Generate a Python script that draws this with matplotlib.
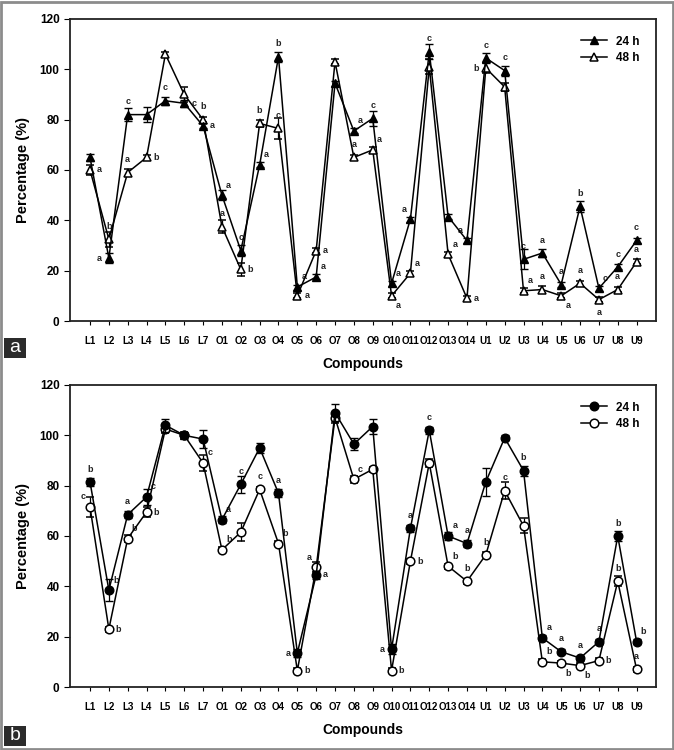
"""Two-panel line chart: percentage per compound after 24 h and 48 h."""

import matplotlib

matplotlib.use("Agg")
import matplotlib.pyplot as plt
from matplotlib.lines import Line2D
from matplotlib.patches import Rectangle

plt.rcParams["font.family"] = ["Liberation Sans", "DejaVu Sans"]

compounds = (["L%d" % i for i in range(1, 8)] + ["O%d" % i for i in range(1, 15)]
             + ["U%d" % i for i in range(1, 10)])

# panel a (triangles)
a24 = [65, 25, 82, 82, 87.5, 86.5, 77.5, 50, 28, 62, 105, 13.5, 17.5, 94.5, 75.5,
       80.5, 15, 40.5, 107, 41.5, 32, 104.5, 99.5, 24.5, 27, 14.5, 45.5, 13, 21.5, 32]
a48 = [60, 32.5, 59, 65, 106, 90, 80, 37.5, 20.5, 78.5, 76.5, 10, 28, 103, 65,
       68, 10, 19, 101, 26.5, 9, 100.5, 93, 12, 12.5, 10, 15, 8.5, 12.5, 23.5]
a24_err = [1.5, 2, 2.5, 3, 1.5, 1.5, 1, 2, 2, 1, 2, 1, 1, 1, 1,
           3, 1, 1, 3, 1, 1, 2, 2, 4, 1.5, 1, 2, 1, 1, 1]
a48_err = [2, 3, 1.5, 1, 1, 3, 1, 2.5, 2.5, 1.5, 4, 1, 1, 1, 1,
           1, 1, 1, 3, 1, 1, 2, 1.5, 1, 1.5, 1, 1, 1, 1, 1]

# panel b (circles)
b24 = [81.5, 38.5, 68.5, 75.5, 104, 100, 98.5, 66.5, 80.5, 95, 77, 13.5, 44.5, 109, 96.5,
       103.5, 15, 63, 102, 60, 57, 81.5, 99, 86, 19.5, 14, 11.5, 18, 60, 18]
b48 = [71.5, 23, 59, 69.5, 102.5, 100, 89, 54.5, 61.5, 78.5, 57, 6.5, 47.5, 107, 82.5,
       86.5, 6.5, 50, 89, 48, 42, 52.5, 78, 64, 10, 9.5, 8.5, 10.5, 42, 7]
b24_err = [1.5, 4.5, 1.5, 3, 2.5, 1.5, 3.5, 1.5, 3.5, 2, 1.5, 1.5, 1.5, 3.5, 2.5,
           3, 2, 1.5, 1.5, 1.5, 1.5, 5.5, 1, 2, 1, 1, 1, 1, 2, 1]
b48_err = [4, 1, 1.5, 2, 1.5, 1.5, 3, 1, 3.5, 1, 1, 1, 2, 2, 1.5,
           1, 1, 1, 1.5, 1, 1, 1, 3.5, 3, 1, 1, 1, 1, 2, 1]

# significance letters
a24_let = ["", "a", "c", "", "c", "c", "a", "a", "c", "a", "b", "a", "a", "", "a",
           "c", "a", "a", "c", "", "a", "c", "c", "c", "a", "a", "b", "c", "c", "c"]
a48_let = ["a", "b", "a", "b", "", "", "b", "a", "b", "b", "c", "a", "a", "", "a",
           "a", "a", "a", "", "a", "a", "b", "", "a", "a", "a", "a", "a", "a", "a"]
b24_let = ["b", "b", "a", "c", "", "", "", "a", "c", "", "a", "a", "a", "", "",
           "", "a", "a", "c", "a", "a", "", "", "b", "a", "a", "a", "a", "b", "b"]
b48_let = ["c", "b", "b", "b", "", "", "c", "b", "", "c", "b", "b", "a", "", "c",
           "", "b", "b", "", "b", "b", "b", "c", "", "b", "b", "b", "b", "b", "a"]

# where each letter sits relative to its marker
a24_pos = ["", "l", "t", "", "t", "r", "r", "tr", "t", "tr", "t", "tr", "tr", "", "tr",
           "t", "tr", "tl", "t", "", "tl", "t", "t", "t", "t", "t", "t", "tr", "t", "t"]
a48_pos = ["r", "t", "t", "r", "", "", "t", "t", "r", "t", "t", "r", "r", "", "t",
           "tr", "br", "tr", "", "tr", "r", "l", "", "tr", "t", "br", "t", "b", "t", "t"]
b24_pos = ["t", "tr", "t", "tr", "", "", "", "tr", "t", "", "t", "l", "r", "", "",
           "", "l", "t", "t", "tr", "t", "", "", "t", "tr", "t", "t", "t", "t", "tr"]
b48_pos = ["tl", "r", "tr", "r", "", "", "tr", "tr", "", "t", "tr", "r", "tl", "", "tr",
           "", "r", "r", "", "tr", "t", "t", "t", "", "tr", "br", "br", "r", "t", "t"]

OFFSETS = {"t": (0, 6, "center", "bottom"), "b": (0, -6, "center", "top"),
           "r": (5, 0, "left", "center"), "l": (-5, 0, "right", "center"),
           "tr": (3, 4, "left", "bottom"), "br": (3, -4, "left", "top"),
           "tl": (-3, 4, "right", "bottom")}


def add_letters(ax, x, y, letters, where):
    for xi, yi, s, p in zip(x, y, letters, where):
        if not s:
            continue
        dx, dy, ha, va = OFFSETS[p]
        ax.annotate(s, (xi, yi), xytext=(dx, dy), textcoords="offset points",
                    ha=ha, va=va, fontsize=6.5, fontweight="bold", color="#222222")


def draw_panel(ax, y24, e24, y48, e48, l24, p24, l48, p48, marker):
    x = list(range(len(compounds)))
    ax.errorbar(x, y48, yerr=e48, color="black", lw=1.1, marker=marker, ms=6.2,
                mfc="white", mec="black", mew=1.1, capsize=3, elinewidth=0.9,
                zorder=3)
    ax.errorbar(x, y24, yerr=e24, color="black", lw=1.1, marker=marker, ms=6.2,
                mfc="black", mec="black", capsize=3, elinewidth=0.9, zorder=4)
    add_letters(ax, x, y24, l24, p24)
    add_letters(ax, x, y48, l48, p48)
    ax.set_xlim(-1.06, 30.03)
    ax.set_ylim(0, 120)
    ax.set_yticks(range(0, 121, 20))
    ax.set_xticks(x)
    ax.set_xticklabels(compounds, fontsize=7, fontweight="bold")
    ax.tick_params(axis="y", labelsize=8.5, direction="out", length=4)
    ax.tick_params(axis="x", direction="out", length=3, pad=8)
    for lab in ax.get_yticklabels():
        lab.set_fontweight("bold")
    for sp in ax.spines.values():
        sp.set_linewidth(1.3)
        sp.set_color("#222222")
    ax.set_ylabel("Percentage (%)", fontsize=10.5, fontweight="bold", labelpad=7)
    ax.set_xlabel("Compounds", fontsize=10, fontweight="bold", labelpad=8)
    handles = [Line2D([], [], color="black", lw=1.1, marker=marker, ms=6.2,
                      mfc="black", mec="black"),
               Line2D([], [], color="black", lw=1.1, marker=marker, ms=6.2,
                      mfc="white", mec="black", mew=1.1)]
    ax.legend(handles, ["24 h", "48 h"], loc="upper right", frameon=False,
              handlelength=2.2, borderaxespad=1.0, labelspacing=0.35,
              prop={"weight": "bold", "size": 8.5})


fig = plt.figure(figsize=(6.74, 7.5), dpi=100)
ax_a = fig.add_axes([0.1039, 0.572, 0.8694, 0.4027])
ax_b = fig.add_axes([0.1039, 0.084, 0.8694, 0.4027])
draw_panel(ax_a, a24, a24_err, a48, a48_err, a24_let, a24_pos, a48_let, a48_pos, "^")
draw_panel(ax_b, b24, b24_err, b48, b48_err, b24_let, b24_pos, b48_let, b48_pos, "o")

# panel tags and outer frame
for label, yb in (("a", 0.523), ("b", 0.006)):
    fig.patches.append(Rectangle((0.006, yb), 0.032, 0.026, transform=fig.transFigure,
                                 facecolor="#2b2b2b", edgecolor="none"))
    fig.text(0.022, yb + 0.013, label, color="white", fontsize=14,
             ha="center", va="center")
fig.patches.append(Rectangle((0.001, 0.001), 0.997, 0.997, transform=fig.transFigure,
                             facecolor="none", edgecolor="#8c8c8c", lw=2))

fig.savefig("out.png", dpi=100)
